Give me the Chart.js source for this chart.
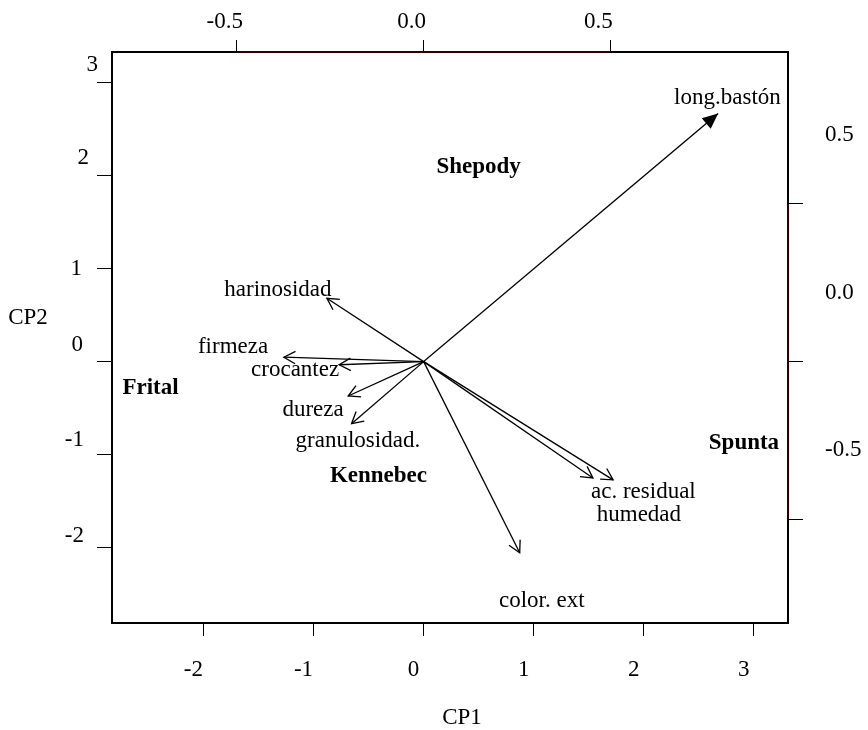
<!DOCTYPE html>
<html><head><meta charset="utf-8">
<script src="https://cdn.jsdelivr.net/npm/chart.js@4.4.1/dist/chart.umd.min.js"></script>
<style>html,body{margin:0;padding:0;background:#fff}#wrap{width:868px;height:730px;position:relative}</style>
</head><body><div id="wrap"><canvas id="c"></canvas></div>
<script>
// ---- data ----
const cultivars = ['Shepody', 'Frital', 'Kennebec', 'Spunta'];
const scoreCP1 = [0.50, -2.48, -0.41, 2.91];
const scoreCP2 = [2.09, -0.28, -1.23, -0.88];

const variables = ['long.bastón', 'harinosidad', 'firmeza', 'crocantez', 'dureza', 'granulosidad.', 'color. ext', 'ac. residual', 'humedad'];
const loadCP1 = [0.788, -0.259, -0.374, -0.226, -0.202, -0.193, 0.257, 0.453, 0.507];
const loadCP2 = [0.787, 0.201, 0.014, -0.010, -0.109, -0.197, -0.606, -0.369, -0.375];
const varLabelCP1 = [0.813, -0.390, -0.510, -0.344, -0.296, -0.176, 0.316, 0.588, 0.576];
const varLabelCP2 = [0.835, 0.227, 0.047, -0.026, -0.153, -0.253, -0.758, -0.412, -0.486];

const scoreTicks = [-2, -1, 0, 1, 2, 3];
const loadTicks = [-0.5, 0.0, 0.5];
const xTitle = 'CP1';
const yTitle = 'CP2';

// ---- style ----
const FONT = '"Liberation Serif", "Times New Roman", serif';
const FS = 23;
// left tick label placement quirks of the original (pixel offsets: right edge x, dy from tick)
const leftLabelStyle = {'-2': [84, -12], '-1': [84, -15], '0': [83, -17], '1': [82, 0], '2': [89, -18], '3': [98, -18]};

const datasets = variables.map((v, i) => ({
  label: v,
  data: [{x: 0, y: 0}, {x: loadCP1[i], y: loadCP2[i]}],
  xAxisID: 'x2', yAxisID: 'y2',
  showLine: true, borderColor: '#000', borderWidth: 1.3,
  pointRadius: 0, fill: false
}));
datasets.push({
  label: 'scores',
  data: scoreCP1.map((x, i) => ({x: x, y: scoreCP2[i]})),
  xAxisID: 'x', yAxisID: 'y', pointRadius: 0, showLine: false
});

const biplotPlugin = {
  id: 'biplot',
  afterDatasetsDraw(chart) {
    const ctx = chart.ctx;
    const s = chart.scales;
    ctx.save();
    // arrow heads
    variables.forEach((v, i) => {
      const x0 = s.x2.getPixelForValue(0), y0 = s.y2.getPixelForValue(0);
      const x1 = s.x2.getPixelForValue(loadCP1[i]), y1 = s.y2.getPixelForValue(loadCP2[i]);
      const a = Math.atan2(y1 - y0, x1 - x0);
      ctx.strokeStyle = '#000'; ctx.fillStyle = '#000'; ctx.lineWidth = 1.3;
      if (i === 0) {
        const L = 17, h = 0.42;
        ctx.beginPath();
        ctx.moveTo(x1, y1);
        ctx.lineTo(x1 - L * Math.cos(a - h), y1 - L * Math.sin(a - h));
        ctx.lineTo(x1 - L * Math.cos(a + h), y1 - L * Math.sin(a + h));
        ctx.closePath(); ctx.fill();
      } else {
        const L = 13, h = 0.5;
        ctx.beginPath();
        ctx.moveTo(x1 - L * Math.cos(a - h), y1 - L * Math.sin(a - h));
        ctx.lineTo(x1, y1);
        ctx.lineTo(x1 - L * Math.cos(a + h), y1 - L * Math.sin(a + h));
        ctx.stroke();
      }
    });
    // variable labels
    ctx.font = FS + 'px ' + FONT;
    ctx.textAlign = 'center'; ctx.textBaseline = 'middle'; ctx.fillStyle = '#000';
    variables.forEach((v, i) => {
      ctx.fillText(v, s.x2.getPixelForValue(varLabelCP1[i]), s.y2.getPixelForValue(varLabelCP2[i]));
    });
    // cultivar labels
    ctx.font = 'bold ' + FS + 'px ' + FONT;
    cultivars.forEach((c, i) => {
      ctx.fillText(c, s.x.getPixelForValue(scoreCP1[i]), s.y.getPixelForValue(scoreCP2[i]));
    });
    // left tick labels
    ctx.font = FS + 'px ' + FONT;
    ctx.textAlign = 'right';
    scoreTicks.forEach(t => {
      const st = leftLabelStyle[String(t)] || [84, -15];
      ctx.fillText(String(t), st[0], s.y.getPixelForValue(t) + st[1]);
    });
    // axis titles
    ctx.textAlign = 'center';
    ctx.fillText(xTitle, (chart.chartArea.left + chart.chartArea.right) / 2 + 12, 718);
    ctx.fillText(yTitle, 28, 318);
    // darker axis segments (top / right)
    ctx.strokeStyle = '#2a0000'; ctx.lineWidth = 2;
    ctx.beginPath();
    ctx.moveTo(s.x2.getPixelForValue(loadTicks[0]), chart.chartArea.top);
    ctx.lineTo(s.x2.getPixelForValue(loadTicks[loadTicks.length - 1]), chart.chartArea.top);
    ctx.moveTo(chart.chartArea.right, s.y2.getPixelForValue(loadTicks[loadTicks.length - 1]));
    ctx.lineTo(chart.chartArea.right, s.y2.getPixelForValue(loadTicks[0]));
    ctx.stroke();
    ctx.restore();
  }
};

function axis(pos, min, max, tickVals, size, tickLen, pad, offset, fmt, showLabels) {
  return {
    type: 'linear', position: pos, min: min, max: max,
    afterBuildTicks: sc => { sc.ticks = tickVals.map(v => ({value: v})); },
    afterFit: sc => { if (pos === 'left' || pos === 'right') sc.width = size; else sc.height = size; },
    grid: {display: true, drawOnChartArea: false, drawTicks: true, tickLength: tickLen, color: '#000', lineWidth: 1},
    border: {display: true, color: '#000', width: 2},
    ticks: {display: showLabels, autoSkip: false, maxRotation: 0, minRotation: 0, padding: pad, labelOffset: offset, color: '#000',
            font: {family: FONT, size: FS}, callback: fmt}
  };
}

new Chart(document.getElementById('c'), {
  type: 'scatter',
  data: {datasets: datasets},
  options: {
    responsive: true, maintainAspectRatio: false, animation: false,
    layout: {padding: 0},
    plugins: {legend: {display: false}, tooltip: {enabled: false}},
    scales: {
      x: axis('bottom', -2.83, 3.31, scoreTicks, 107, 13, 20, -10, v => String(v), true),
      y: axis('left', -2.81, 3.33, scoreTicks, 112, 15, 13, -15, v => String(v), false),
      x2: axis('top', -0.834, 0.975, loadTicks, 52, 12, 4, -12, v => v.toFixed(1), true),
      y2: axis('right', -0.829, 0.982, loadTicks, 80, 15, 22, -69, v => v.toFixed(1), true)
    }
  },
  plugins: [biplotPlugin]
});
</script>
</body></html>
